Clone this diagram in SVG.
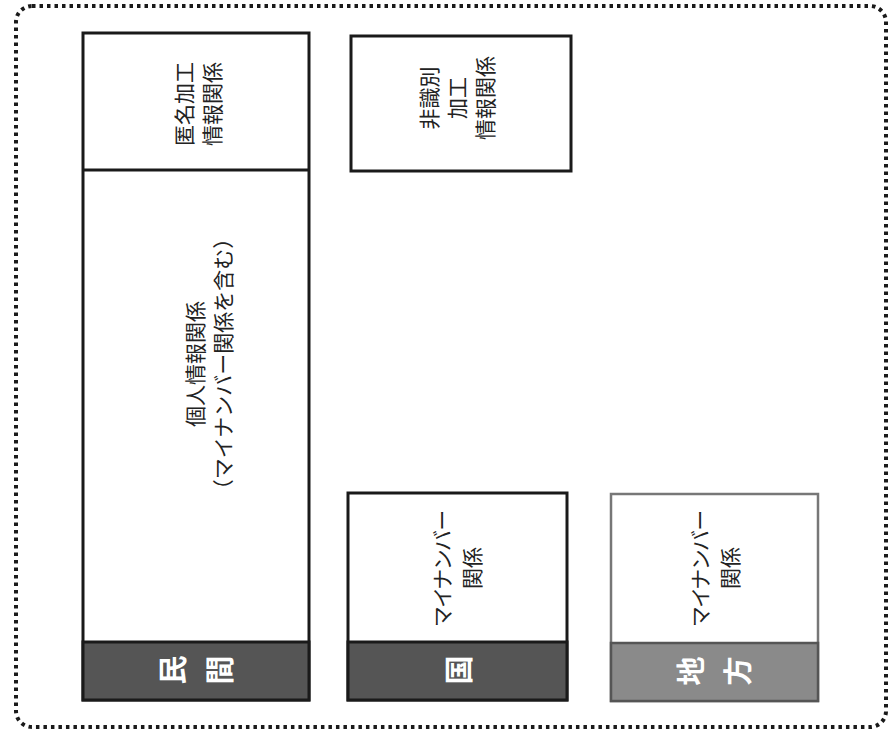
<svg xmlns="http://www.w3.org/2000/svg" width="891" height="734" viewBox="0 0 891 734">
<style>
.frame{fill:none;stroke:#1a1a1a;stroke-width:4;stroke-dasharray:3.5 4}
.box{fill:#fff;stroke:#1a1a1a;stroke-width:3}
.boxl{fill:#fff;stroke:#777;stroke-width:2.5}
.band{fill:#555;stroke:#1a1a1a;stroke-width:3}
.bandl{fill:#8a8a8a;stroke:#555;stroke-width:2.5}
.t{font-family:"Noto Sans CJK JP","Noto Sans",sans-serif;font-size:21px;fill:#222;text-anchor:middle;dominant-baseline:central}
.p{font-feature-settings:"palt"}
.b{font-family:"Noto Sans CJK JP","Noto Sans",sans-serif;font-size:29px;font-weight:bold;fill:#fff;text-anchor:middle;dominant-baseline:central}
</style>
<rect class="frame" x="16" y="6" width="870" height="721" rx="16" ry="16"/>
<g id="minkan">
<rect class="box" x="83" y="33" width="226" height="667"/>
<line x1="83" y1="170" x2="309" y2="170" stroke="#1a1a1a" stroke-width="3"/>
<rect class="band" x="83" y="642" width="226" height="58"/>
<g transform="translate(197,104) rotate(-90)">
<text class="t" x="0" y="-14">匿名加工</text>
<text class="t" x="0" y="14">情報関係</text>
</g>
<g transform="translate(208,364) rotate(-90)">
<text class="t" x="0" y="-14">個人情報関係</text>
<text class="t" x="0" y="14">（マイナンバー関係を含む）</text>
</g>
<text class="b" transform="translate(171,670) rotate(-90)">民</text>
<text class="b" transform="translate(218,670) rotate(-90)">間</text>
</g>
<g id="hishikibetsu">
<rect class="box" x="351" y="36" width="220" height="135"/>
<g transform="translate(456,98) rotate(-90)">
<text class="t" x="0" y="-28">非識別</text>
<text class="t" x="0" y="0">加工</text>
<text class="t" x="0" y="28">情報関係</text>
</g>
</g>
<g id="kuni">
<rect class="box" x="348" y="493" width="219" height="207"/>
<rect class="band" x="348" y="642" width="219" height="58"/>
<g transform="translate(456,568) rotate(-90)">
<text class="t p" x="0" y="-15">マイナンバー</text>
<text class="t" x="0" y="15">関係</text>
</g>
<text class="b" transform="translate(457,670) rotate(-90)">国</text>
</g>
<g id="chihou">
<rect class="boxl" x="611" y="494" width="207" height="207"/>
<rect class="bandl" x="611" y="643" width="207" height="58"/>
<g transform="translate(714,568) rotate(-90)">
<text class="t p" x="0" y="-15">マイナンバー</text>
<text class="t" x="0" y="15">関係</text>
</g>
<text class="b" transform="translate(689,671) rotate(-90)">地</text>
<text class="b" transform="translate(736,671) rotate(-90)">方</text>
</g>
<g id="connectors"></g>
</svg>
